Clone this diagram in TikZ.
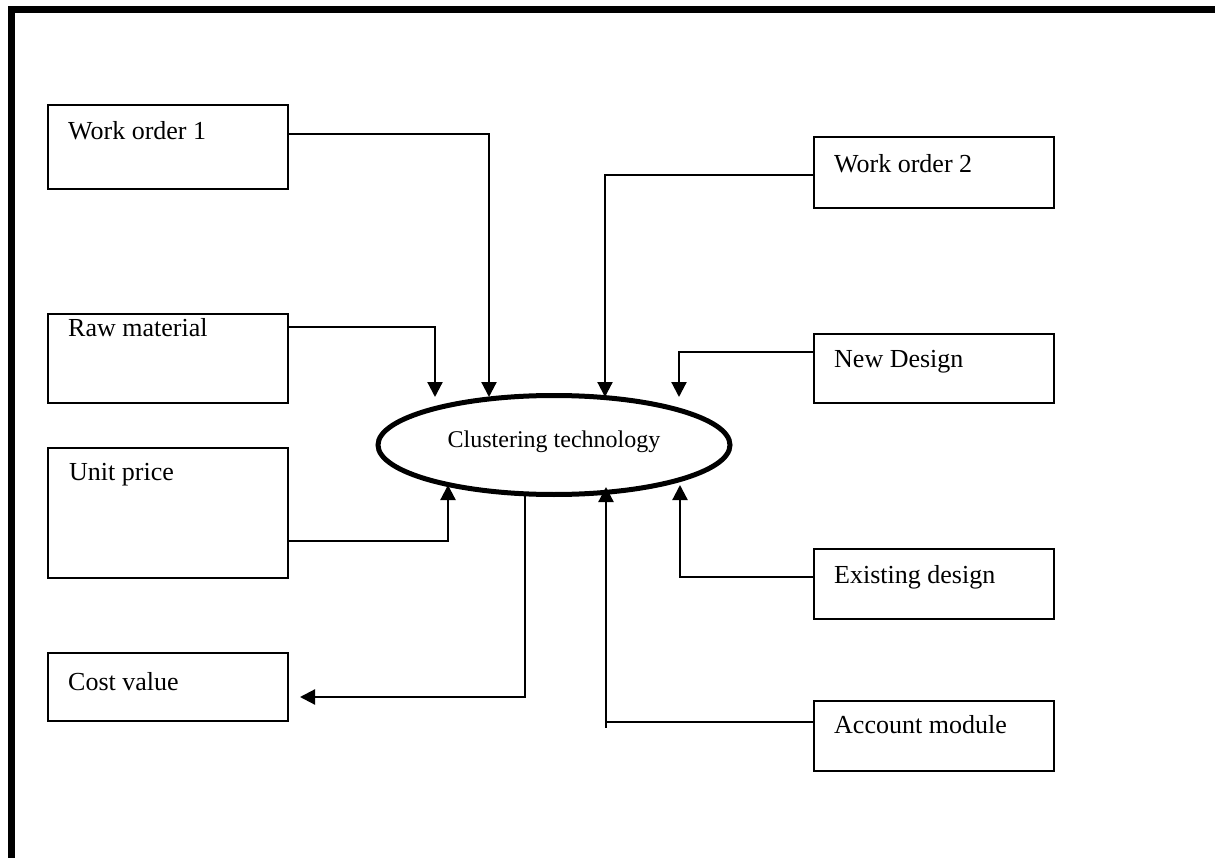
\documentclass[tikz,border=0pt]{standalone}
\usepackage{fontspec}
\setmainfont{Liberation Serif}
\usetikzlibrary{shapes.geometric,arrows.meta,calc}
\begin{document}
\begin{tikzpicture}[x=1pt,y=-1pt,
  box/.style={draw, line width=2pt, rectangle, anchor=north west, inner sep=0pt, minimum width=240pt},
  conn/.style={line width=2.2pt},
  arr/.style={conn, -{Triangle[length=15pt,width=15pt]}},
  lbl/.style={font=\fontsize{26}{30}\selectfont, anchor=base west, inner sep=0pt}]
\useasboundingbox (0,0) rectangle (1215,858);

% page frame (left and top rules)
\draw[line width=7pt, miter limit=10] (11.5,858) -- (11.5,10) -- (1215,10);

% central process
\node[draw, ellipse, line width=5pt, minimum width=352pt, minimum height=99pt, inner sep=0pt,
      label={[font=\fontsize{24}{28}\selectfont, yshift=3pt]center:Clustering technology}]
      (cl) at (554,445) {};

% left column
\node[box, minimum height=84pt]  (wo1) at (47,104) {};
\node[box, minimum height=89pt]  (raw) at (47,313) {};
\node[box, minimum height=130pt] (up)  at (47,447) {};
\node[box, minimum height=68pt]  (cv)  at (47,652) {};
\node[lbl] (wo1t) at ($(wo1.north west)+(21,36)$) {Work order 1};
\node[lbl] (rawt) at ($(raw.north west)+(21,24)$) {Raw material};
\node[lbl] (upt)  at ($(up.north west)+(22,33)$)  {Unit price};
\node[lbl] (cvt)  at ($(cv.north west)+(21,38)$)  {Cost value};

% right column
\node[box, minimum height=71pt] (wo2) at (813,136) {};
\node[box, minimum height=69pt] (nd)  at (813,333) {};
\node[box, minimum height=70pt] (ed)  at (813,548) {};
\node[box, minimum height=70pt] (am)  at (813,700) {};
\node[lbl] (wo2t) at ($(wo2.north west)+(21,37)$) {Work order 2};
\node[lbl] (ndt)  at ($(nd.north west)+(21,34)$)  {New Design};
\node[lbl] (edt)  at ($(ed.north west)+(21,35)$)  {Existing design};
\node[lbl] (amt)  at ($(am.north west)+(21,33)$)  {Account module};

% inputs from above
\draw[arr] ($(wo1.north east)+(0,30)$) -| ($(cl.center)+(-65,-48)$);
\draw[arr] ($(raw.north east)+(0,14)$) -| ($(cl.center)+(-119,-48)$);
\draw[arr] ($(wo2.north west)+(0,39)$) -| ($(cl.center)+(51,-48)$);
\draw[arr] ($(nd.north west)+(0,19)$)  -| ($(cl.center)+(125,-48)$);

% inputs from below
\draw[arr] ($(up.north east)+(0,94)$) -| ($(cl.center)+(-106,40)$);
\draw[arr] ($(ed.north west)+(0,29)$) -| ($(cl.center)+(126,40)$);
\coordinate (amc) at ($(cl.center)+(52,277)$);
\draw[arr] ($(am.north west)+(0,22)$) -- (amc) -- ($(cl.center)+(52,42)$);
\draw[conn] (amc) -- ++(0,6);

% output
\draw[arr] ($(cl.center)+(-29,50)$) |- ($(cv.north east)+(11,45)$);
\end{tikzpicture}
\end{document}
